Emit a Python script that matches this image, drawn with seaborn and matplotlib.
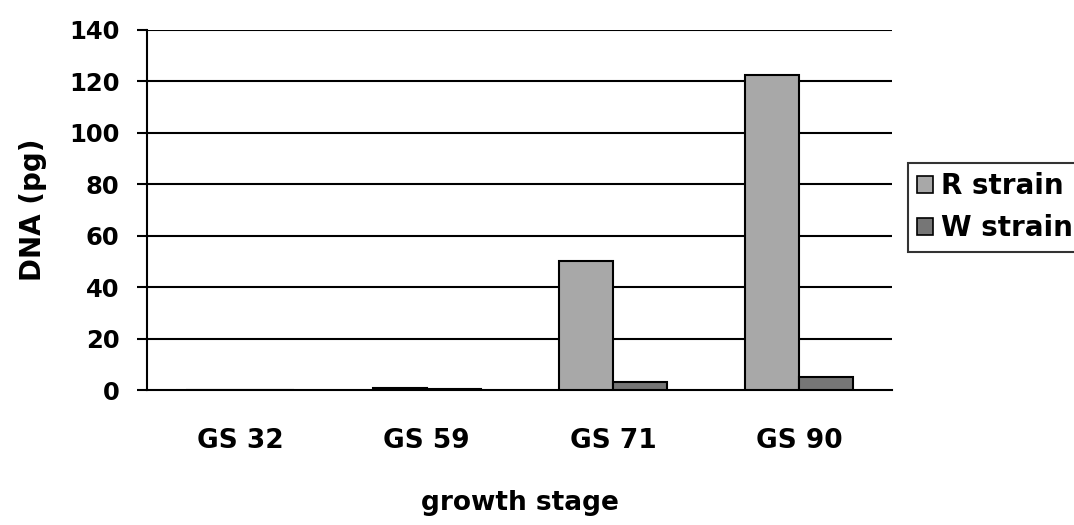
import matplotlib
matplotlib.use("Agg")
import matplotlib.pyplot as plt
from matplotlib.patches import Patch
import seaborn as sns
import pandas as pd
import numpy as np

stages = ["GS 32", "GS 59", "GS 71", "GS 90"]
r_strain = [0.0, 0.8, 50.0, 122.5]
w_strain = [0.0, 0.6, 3.0, 5.0]
series = ["R strain", "W strain"]
yticks = [0, 20, 40, 60, 80, 100, 120, 140]

df = pd.DataFrame({
    "stage": stages * 2,
    "value": r_strain + w_strain,
    "strain": [series[0]] * 4 + [series[1]] * 4,
})

sns.set_theme(style="white")
plt.rcParams['font.family'] = ['DejaVu Sans']
plt.rcParams['text.color'] = 'black'
plt.rcParams['axes.labelcolor'] = 'black'
plt.rcParams['xtick.color'] = 'black'
plt.rcParams['ytick.color'] = 'black'

fig = plt.figure(figsize=(10.74, 5.25), dpi=100)
ax = fig.add_axes([0.137, 0.257, 0.694, 0.686])

palette = {"R strain": "#a8a8a8", "W strain": "#767676"}
sns.barplot(data=df, x="stage", y="value", hue="strain", palette=palette,
            width=0.58, edgecolor="black", linewidth=1.5, ax=ax, legend=False,
            zorder=3)

ax.set_ylim(0, 140)
ax.set_xlim(-0.5, 3.5)
ax.set_yticks(yticks)
ax.set_yticklabels([str(v) for v in yticks], fontsize=17.5, fontweight="bold")
ax.set_xticks(range(len(stages)))
ax.set_xticklabels(stages, fontsize=19, fontweight="bold")
ax.tick_params(axis="x", which="major", length=0, pad=27)
ax.set_xticks(np.arange(-0.5, 4.0, 1.0), minor=True)
ax.tick_params(axis="x", which="minor", length=7, width=1.5, color="black", direction="out")
ax.tick_params(axis="y", which="major", length=7, width=1.5, color="black", direction="out", left=True, pad=13)

for v in yticks[1:]:
    ax.axhline(v, color="black", linewidth=1.5, zorder=1)

for s in ["top", "right"]:
    ax.spines[s].set_visible(False)
for s in ["left", "bottom"]:
    ax.spines[s].set_color("black")
    ax.spines[s].set_linewidth(1.5)

ax.set_xlabel("growth stage", fontsize=19, fontweight="bold", labelpad=26)
ax.set_ylabel("DNA (pg)", fontsize=20, fontweight="bold", labelpad=16)

handles = [Patch(facecolor=palette[s], edgecolor="black", linewidth=1.2) for s in series]
leg = fig.legend(handles, series, loc="upper left", bbox_to_anchor=(0.845, 0.69),
                 frameon=True, fancybox=False, edgecolor="black",
                 prop={"size": 20, "weight": "bold"}, handlelength=0.55, handleheight=0.55,
                 handletextpad=0.3, borderpad=0.35, labelspacing=0.5, borderaxespad=0)
leg.get_frame().set_linewidth(1.5)

fig.savefig("out.png", dpi=100)
